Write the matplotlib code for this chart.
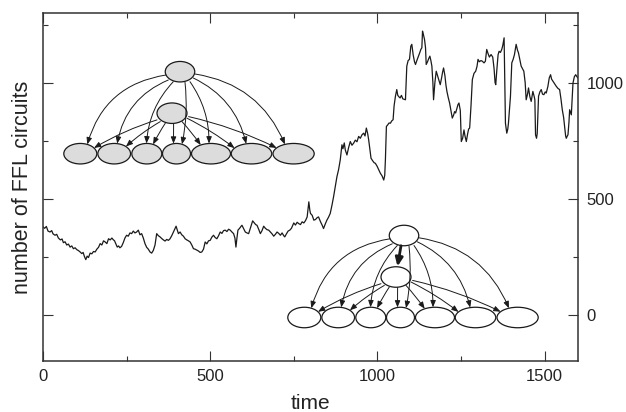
import matplotlib
matplotlib.use('Agg')
import numpy as np
import matplotlib.pyplot as plt
from matplotlib.patches import Ellipse, FancyArrowPatch

plt.rcParams['font.family'] = ['Liberation Sans', 'DejaVu Sans']

# number of FFL circuits vs time
time = [0, 5, 10, 15, 21, 26, 30, 36, 41, 46, 52, 57, 61, 66, 71, 76, 81, 86, 91, 96,
        101, 106, 111, 116, 120, 124, 128, 132, 136, 141, 146, 151, 156, 161, 166, 171, 176, 181, 186, 191,
        196, 201, 206, 210, 214, 218, 222, 226, 230, 235, 240, 245, 250, 255, 260, 265, 270, 275, 280, 285,
        290, 295, 300, 305, 310, 315, 320, 325, 330, 335, 340, 345, 350, 355, 360, 365, 370, 375, 380, 385,
        390, 395, 398, 402, 405, 410, 415, 420, 425, 430, 435, 440, 445, 450, 455, 460, 465, 470, 475, 480,
        485, 490, 495, 500, 505, 510, 515, 520, 525, 530, 535, 540, 545, 550, 555, 560, 565, 570, 574, 577,
        580, 583, 588, 592, 595, 600, 605, 610, 615, 620, 624, 627, 632, 636, 640, 645, 650, 655, 660, 665,
        670, 675, 680, 685, 690, 695, 700, 705, 710, 715, 720, 723, 728, 733, 738, 743, 748, 750, 755, 760,
        765, 770, 775, 780, 785, 790, 795, 798, 800, 805, 810, 815, 820, 824, 830, 835, 839, 844, 849, 854,
        859, 864, 869, 874, 879, 884, 889, 894, 897, 901, 904, 909, 914, 919, 924, 929, 934, 939, 944, 949,
        954, 959, 963, 967, 971, 974, 977, 981, 985, 990, 994, 999, 1004, 1009, 1014, 1019, 1022, 1024, 1027, 1031,
        1035, 1039, 1043, 1047, 1050, 1054, 1058, 1061, 1065, 1068, 1072, 1076, 1080, 1084, 1088, 1092, 1096, 1100, 1103, 1107,
        1111, 1114, 1118, 1123, 1127, 1130, 1133, 1135, 1138, 1141, 1144, 1146, 1150, 1154, 1157, 1160, 1163, 1166, 1168, 1172,
        1176, 1180, 1184, 1188, 1192, 1195, 1198, 1202, 1205, 1208, 1212, 1216, 1220, 1224, 1228, 1231, 1234, 1238, 1241, 1244,
        1248, 1251, 1255, 1259, 1262, 1266, 1270, 1273, 1276, 1280, 1284, 1289, 1294, 1298, 1301, 1305, 1310, 1314, 1319, 1323,
        1327, 1331, 1335, 1340, 1345, 1349, 1352, 1354, 1357, 1361, 1364, 1368, 1372, 1375, 1379, 1381, 1383, 1387, 1390, 1392,
        1395, 1398, 1402, 1406, 1410, 1415, 1419, 1422, 1426, 1430, 1434, 1438, 1442, 1445, 1449, 1452, 1456, 1460, 1465, 1469,
        1471, 1473, 1476, 1478, 1482, 1486, 1490, 1494, 1498, 1502, 1505, 1510, 1514, 1518, 1521, 1525, 1530, 1535, 1540, 1545,
        1549, 1553, 1557, 1560, 1563, 1565, 1568, 1570, 1573, 1575, 1578, 1580, 1583, 1585, 1589, 1593, 1597, 1600]
ffl = [378, 372, 380, 360, 356, 362, 348, 342, 346, 330, 322, 326, 310, 314, 300, 304, 291, 296, 284, 288,
       280, 276, 270, 263, 268, 250, 237, 252, 246, 265, 262, 272, 270, 282, 290, 306, 300, 318, 313, 306,
       327, 322, 330, 323, 318, 305, 291, 296, 288, 294, 310, 330, 342, 338, 352, 349, 360, 352, 356, 364,
       344, 349, 330, 306, 290, 282, 270, 265, 277, 300, 349, 340, 335, 328, 322, 317, 324, 320, 327, 340,
       356, 371, 381, 362, 349, 356, 344, 338, 327, 322, 318, 313, 300, 284, 282, 278, 274, 268, 270, 282,
       313, 305, 318, 320, 334, 342, 332, 327, 340, 356, 350, 362, 364, 358, 368, 364, 356, 349, 330, 291,
       330, 364, 372, 380, 385, 370, 356, 352, 349, 372, 390, 404, 395, 388, 385, 368, 349, 362, 381, 372,
       366, 364, 356, 348, 338, 346, 356, 350, 342, 352, 340, 335, 348, 360, 364, 372, 388, 395, 386, 398,
       392, 388, 400, 395, 405, 421, 486, 450, 436, 428, 407, 410, 418, 421, 400, 385, 371, 390, 407, 420,
       436, 470, 508, 550, 594, 625, 667, 732, 715, 740, 710, 688, 720, 746, 730, 739, 752, 745, 768, 760,
       775, 782, 770, 804, 780, 753, 720, 674, 665, 655, 652, 640, 625, 609, 598, 580, 600, 667, 811, 818,
       826, 825, 835, 840, 900, 941, 970, 945, 938, 934, 945, 930, 928, 926, 1071, 1095, 1100, 1157, 1165, 1120,
       1090, 1078, 1095, 1114, 1130, 1143, 1150, 1222, 1205, 1186, 1150, 1078, 1090, 1105, 1114, 1095, 1071, 1000, 926, 1000,
       1049, 1030, 1010, 991, 1020, 1045, 1063, 1030, 990, 962, 935, 912, 880, 847, 860, 875, 869, 890, 905, 912,
       880, 746, 760, 796, 770, 746, 780, 800, 804, 900, 1013, 1040, 1049, 1070, 1100, 1090, 1095, 1092, 1085, 1092,
       1143, 1125, 1110, 1121, 1110, 1060, 1000, 991, 1050, 1120, 1135, 1130, 1143, 1160, 1193, 1000, 825, 782, 800, 825,
       880, 941, 1085, 1100, 1121, 1165, 1140, 1128, 1100, 1071, 1060, 1049, 1000, 926, 950, 977, 940, 919, 962, 940,
       926, 775, 760, 780, 941, 960, 970, 950, 948, 960, 955, 984, 1020, 1034, 1015, 1006, 995, 984, 975, 970,
       930, 883, 850, 811, 770, 760, 770, 775, 830, 883, 870, 861, 940, 998, 1025, 1034, 1025, 1020]

xticks = [0, 500, 1000, 1500]
yticks = [0, 500, 1000]

fig = plt.figure(figsize=(6.26, 4.12), dpi=100)
ax = fig.add_axes([43 / 626, 1 - 361 / 412, 535 / 626, 348 / 412])
ax.plot(time, ffl, '-', lw=0.9, color='#1a1a1a')

ax.set_xlim(0, 1600)
ax.set_ylim(-200, 1300)
ax.set_xticks(xticks)
ax.set_xticks([250, 750, 1250], minor=True)
ax.set_yticks(yticks)
ax.set_yticks([250, 750, 1250], minor=True)
ax.tick_params(which='both', direction='in', top=True, right=True,
               labelleft=False, labelright=True, width=0.8, color='#333333',
               labelsize=12, colors='#222222')
ax.tick_params(which='major', length=7, pad=6)
ax.tick_params(which='minor', length=3.6)
for s in ax.spines.values():
    s.set_linewidth(1.1)
    s.set_color('#333333')

ax.set_xlabel('time', fontsize=15, labelpad=7, color='#222222')
ax.set_ylabel('number of FFL circuits', fontsize=15.5, labelpad=7, color='#222222')

# overlay in pixel units for the two motif sketches
ov = fig.add_axes([0, 0, 1, 1])
ov.set_xlim(0, 626)
ov.set_ylim(412, 0)
ov.axis('off')

node_dx = [-99.7, -65.8, -33.2, -3.5, 31, 71.5, 113.6]
node_w = [33, 32.7, 30, 28, 39, 40.5, 41.2]
arc_start = [(-14, 3.3), (-11.7, 8.3), (-6.7, 10), (5, 10.6), (10, 10), (13.3, 6.3), (15, 2.3)]
arc_end = [7, 3, -0.3, 5.5, -2, -5.3, -8.7]
arc_rad = [0.32, 0.27, 0.18, -0.08, -0.16, -0.24, -0.28]
mid_start = [(-15, 6.7), (-11.7, 8.4), (-6.7, 10), (1.6, 10.7), (10, 8.4), (15, 5), (16.6, 3.4)]
mid_end = [13.7, 11.7, 6.3, -3, -10.3, -17, -17]
mid_rad = [0.06, 0.05, 0.03, 0.0, -0.03, -0.05, -0.06]


def arrow(p0, p1, rad, lw=0.7, hl=4.0, hw=1.6):
    a = FancyArrowPatch(p0, p1, connectionstyle='arc3,rad=%g' % rad,
                        arrowstyle='-|>,head_length=%g,head_width=%g' % (hl, hw),
                        lw=lw, color='#1a1a1a', shrinkA=0, shrinkB=0, zorder=4)
    ov.add_patch(a)


def motif(cx, cy, face, thick):
    h = 20.5
    mx, my = cx - 8, cy + 41.5
    by = cy + 82
    ov.add_patch(Ellipse((cx, cy), 29.5, h, fc=face, ec='#1a1a1a', lw=0.9, zorder=3))
    ov.add_patch(Ellipse((mx, my), 30, h, fc=face, ec='#1a1a1a', lw=0.9, zorder=3))
    for i in range(7):
        bx = cx + node_dx[i]
        a = node_w[i] / 2
        ov.add_patch(Ellipse((bx, by), node_w[i], h, fc=face, ec='#1a1a1a', lw=0.9, zorder=3))
        ex = arc_end[i]
        ey = by - (h / 2) * np.sqrt(1 - (ex / a) ** 2)
        arrow((cx + arc_start[i][0], cy + arc_start[i][1]), (bx + ex, ey), arc_rad[i])
        ex = mid_end[i]
        ey = by - (h / 2) * np.sqrt(1 - (ex / a) ** 2)
        arrow((mx + mid_start[i][0], my + mid_start[i][1]), (bx + ex, ey), mid_rad[i])
    if thick:
        arrow((cx - 3, cy + h / 2), (mx + 1.5, my - h / 2 - 0.3), 0, lw=2.0, hl=5, hw=2.2)


motif(180, 71.7, '#dcdcdc', False)
motif(404, 235.5, 'white', True)

fig.savefig('out.png', dpi=100)
